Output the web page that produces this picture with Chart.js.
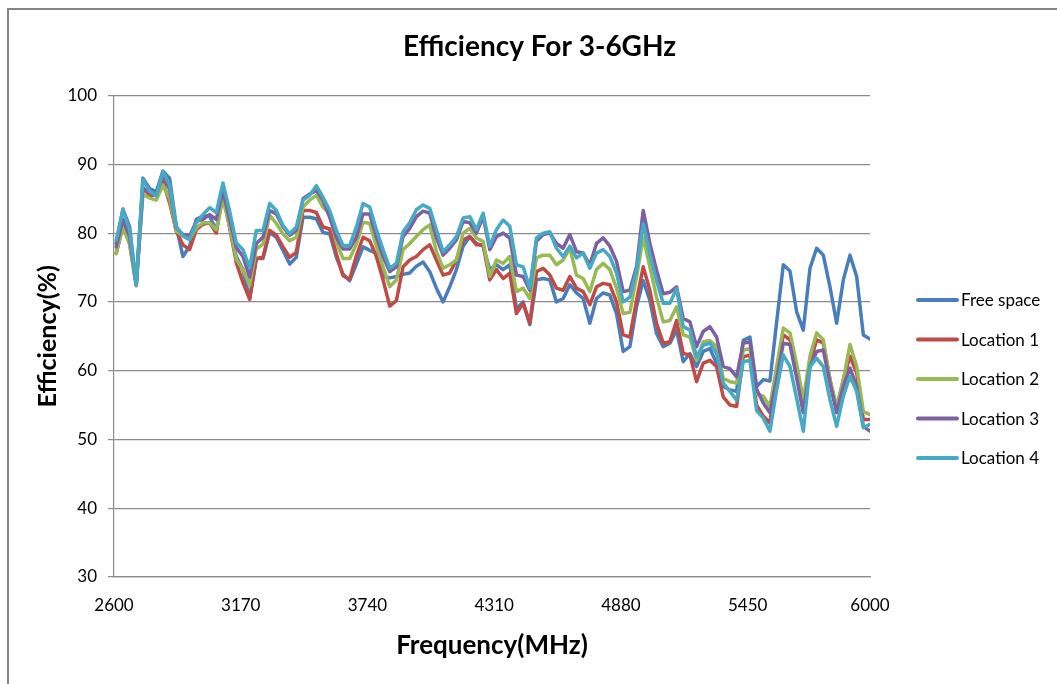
<!DOCTYPE html>
<html>
<head>
<meta charset="utf-8">
<title>Efficiency For 3-6GHz</title>
<script src="https://cdn.jsdelivr.net/npm/chart.js@4.4.1/dist/chart.umd.min.js"></script>
<style>
    html, body { margin: 0; padding: 0; background: #ffffff; }
    #chart { display: block; }
</style>
</head>
<body>
<canvas id="chart" width="1057" height="684"></canvas>
<script>
// Measured frequency points (MHz)
const frequencies = [
    2610, 2640, 2670, 2700, 2730, 2760, 2790, 2820, 2850, 2880,
    2910, 2940, 2970, 3000, 3030, 3060, 3090, 3120, 3150, 3180,
    3210, 3240, 3270, 3300, 3330, 3360, 3390, 3420, 3450, 3480,
    3510, 3540, 3570, 3600, 3630, 3660, 3690, 3720, 3750, 3780,
    3810, 3840, 3870, 3900, 3930, 3960, 3990, 4020, 4050, 4080,
    4110, 4140, 4170, 4200, 4230, 4260, 4290, 4320, 4350, 4380,
    4410, 4440, 4470, 4500, 4530, 4560, 4590, 4620, 4650, 4680,
    4710, 4740, 4770, 4800, 4830, 4860, 4890, 4920, 4950, 4980,
    5010, 5040, 5070, 5100, 5130, 5160, 5190, 5220, 5250, 5280,
    5310, 5340, 5370, 5400, 5430, 5460, 5490, 5520, 5550, 5580,
    5610, 5640, 5670, 5700, 5730, 5760, 5790, 5820, 5850, 5880,
    5910, 5940, 5970, 6000
];

// Efficiency (%) per series
const freeSpace = [
    78.5, 83.5, 81, 72.5, 88, 86.5, 86, 89, 88, 81,
    76.6, 78.1, 82, 82.5, 82.5, 80.3, 86.8, 81, 76.6, 74.7,
    70.4, 76.3, 76.3, 80.1, 79.4, 77.5, 75.5, 76.5, 82.3, 82.3,
    82.1, 80.1, 79.9, 76.5, 74, 73.1, 75.5, 78, 77.5, 77.1,
    73.7, 73.5, 73.7, 74, 74.2, 75.2, 75.8, 74.4, 72, 70,
    72.2, 74.7, 78.1, 79.5, 78.5, 78.1, 74.7, 75.4, 74.7, 75.4,
    69, 70, 66.7, 73.2, 73.4, 73.2, 70, 70.5, 72.5, 71.3,
    70.5, 66.9, 70.5, 71.3, 71, 68.3, 62.8, 63.5, 69.3, 73.1,
    70.2, 65.4, 63.5, 64, 65.9, 61.3, 62.5, 60.6, 62.8, 63.2,
    61.1, 57.7, 57.2, 57, 64.4, 64.9, 57.7, 58.7, 58.5, 67,
    75.4, 74.5, 68.6, 65.9, 74.9, 77.8, 76.8, 72.2, 66.9, 73.2,
    76.8, 73.7, 65.2, 64.6
];
const location1 = [
    77.1, 81, 78.5, 72.5, 86.6, 85.5, 85.5, 87.6, 84.4, 80.3,
    78.3, 77.6, 80.5, 81.3, 81.5, 80, 85.9, 80.8, 75.7, 72.8,
    70.4, 76.3, 76.5, 80.4, 79.7, 78, 76.5, 77.2, 83.3, 83.3,
    83, 80.9, 80.6, 77, 73.8, 73.3, 76.7, 79.4, 78.9, 76.6,
    73.2, 69.4, 70.2, 75.1, 76.1, 76.6, 77.6, 78.3, 76.1, 73.9,
    74.2, 76.1, 79, 79.5, 78.3, 78.3, 73.2, 74.7, 73.4, 74.2,
    68.3, 69.8, 66.9, 74.4, 74.9, 73.9, 72, 71.7, 73.7, 72,
    71.5, 69.6, 72.2, 72.7, 72.5, 70, 65.2, 64.9, 70.2, 75.1,
    71.7, 66.9, 64, 64.2, 67.3, 62.5, 62.3, 58.4, 61.1, 61.5,
    60.6, 56.2, 55, 54.8, 62, 62.3, 55, 53.4, 52.4, 59.7,
    65.2, 64.5, 60, 54.3, 61.1, 64.5, 64, 58.7, 54.3, 58.7,
    62.1, 59.7, 52.9, 52.9
];
const location2 = [
    77, 81, 78.5, 72.3, 85.6, 85.1, 84.8, 87, 85, 80.3,
    79.6, 79.1, 80.8, 81.5, 81.5, 80.5, 84.9, 81, 76.2, 74.7,
    72.4, 77.7, 78.4, 82.6, 81.4, 79.9, 78.9, 79.4, 83.8, 84.8,
    85.5, 83.8, 82.8, 78.7, 76.3, 76.3, 78.4, 81.6, 81.4, 78.1,
    75.1, 72.2, 73.2, 77.6, 78.5, 79.5, 80.5, 81.2, 77.3, 74.9,
    75.4, 76.1, 80, 80.7, 79.3, 78.8, 73.7, 76.1, 75.6, 76.6,
    71.5, 72, 70.5, 76.4, 76.8, 76.8, 75.4, 76.1, 77.8, 73.9,
    73.4, 71.5, 74.7, 75.6, 74.7, 72, 68.3, 68.5, 73.6, 79.4,
    75.1, 70.7, 67.1, 67.3, 69.3, 65.2, 64.9, 61.5, 64.2, 64.4,
    63.5, 58.9, 58.4, 58.2, 63, 63.2, 56.6, 56.3, 54.8, 60.6,
    66.2, 65.5, 61, 55.8, 62.1, 65.5, 64.5, 58.7, 54.8, 58.7,
    63.8, 60.6, 54.1, 53.6
];
const location3 = [
    78, 82, 79.5, 72.5, 86.5, 86, 85.5, 88.5, 86.4, 80.8,
    79.8, 79.6, 81.7, 82, 82.7, 82, 86.1, 82, 77.9, 76.6,
    73.6, 78.5, 79.4, 83.3, 82.8, 80.9, 79.7, 80.4, 85, 85.7,
    86.2, 84.8, 82.3, 79.4, 77.7, 77.7, 79.4, 82.8, 82.8, 79.5,
    76.6, 74.4, 75.1, 79.5, 80.7, 82.4, 83.2, 82.9, 79.3, 76.8,
    77.8, 79, 81.7, 81.5, 80, 82.4, 77.6, 79.5, 80, 79.3,
    73.9, 73.7, 71.7, 78.8, 79.8, 80, 78.5, 77.8, 79.8, 77.3,
    77.1, 75.4, 78.5, 79.3, 78.1, 75.9, 71.5, 71.7, 75.1, 83.3,
    78.5, 74.6, 71.2, 71.4, 72.2, 67.6, 67.1, 63.5, 65.7, 66.4,
    64.9, 60.6, 60.3, 59.1, 64, 64.2, 57.3, 55.3, 53.9, 58.7,
    64, 63.8, 59, 53.9, 60.6, 62.8, 63, 58.2, 53.9, 57.7,
    60.4, 57.7, 51.9, 51.2
];
const location4 = [
    79, 83.4, 80.5, 72.5, 87.8, 86.1, 85.4, 89, 87, 81,
    79.6, 79.1, 81.5, 82.7, 83.7, 83, 87.3, 83.2, 78.6, 77.6,
    75, 80.4, 80.4, 84.3, 83.3, 81.1, 79.9, 80.9, 84.8, 85.5,
    86.9, 85.2, 83.3, 80.4, 78.2, 78.2, 80.9, 84.3, 83.8, 80.5,
    77.6, 74.9, 75.6, 80.2, 81.5, 83.4, 84.1, 83.6, 80.5, 77.3,
    78.3, 79.5, 82.2, 82.4, 80.5, 82.9, 78.1, 80.5, 81.9, 81,
    75.4, 75.1, 72, 79.3, 80, 80.2, 77.8, 76.6, 78.1, 76.4,
    77.1, 74.9, 77.1, 77.6, 76.6, 74.2, 70, 70.7, 74.6, 81.4,
    77, 73.1, 69.8, 69.8, 71.9, 66.4, 65.9, 62, 63.7, 64,
    62.5, 58.2, 57, 55.7, 61.3, 61.5, 54.2, 53.1, 51.2, 57.2,
    62.3, 60.6, 56, 51.2, 60.6, 61.8, 60.6, 55.8, 51.9, 56.3,
    59.2, 57, 51.7, 52.2
];

const seriesNames = ['Free space', 'Location 1', 'Location 2', 'Location 3', 'Location 4'];
const xTickValues = [2600, 3170, 3740, 4310, 4880, 5450, 6000];

const allSeries = [freeSpace, location1, location2, location3, location4];
const seriesColors = ['#4a7ebb', '#be4b48', '#98b954', '#7d60a0', '#46aac5'];
const axisGray = '#8c8c8c';

Chart.defaults.font.family = 'Lato, "Open Sans", sans-serif';
Chart.defaults.color = '#000000';

// Outer frame of the chart object (left and top edges are visible)
const framePlugin = {
    id: 'frame',
    beforeDraw(chart) {
        const ctx = chart.ctx;
        ctx.save();
        ctx.fillStyle = '#ffffff';
        ctx.fillRect(0, 0, chart.width, chart.height);
        ctx.strokeStyle = '#858585';
        ctx.lineWidth = 2;
        ctx.beginPath();
        ctx.moveTo(8, chart.height);
        ctx.lineTo(8, 9);
        ctx.lineTo(chart.width, 9);
        ctx.stroke();
        ctx.restore();
    }
};

// Legend to the right of the plot, drawn like the Excel one
const sideLegendPlugin = {
    id: 'sideLegend',
    afterDraw(chart) {
        const ctx = chart.ctx;
        const x0 = chart.chartArea.right + 48;
        const rowGap = 39.5;
        const yFirst = 300;
        ctx.save();
        ctx.font = '17px ' + Chart.defaults.font.family;
        ctx.textBaseline = 'middle';
        ctx.textAlign = 'left';
        chart.data.datasets.forEach((ds, i) => {
            const y = yFirst + i * rowGap;
            ctx.strokeStyle = ds.borderColor;
            ctx.lineWidth = 4;
            ctx.lineCap = 'round';
            ctx.beginPath();
            ctx.moveTo(x0, y);
            ctx.lineTo(x0 + 39, y);
            ctx.stroke();
            ctx.fillStyle = '#000000';
            ctx.fillText(ds.label, x0 + 43, y + 1);
        });
        ctx.restore();
    }
};

const datasets = allSeries.map((values, i) => ({
    label: seriesNames[i],
    data: frequencies.map((f, j) => ({ x: f, y: values[j] })),
    borderColor: seriesColors[i],
    backgroundColor: seriesColors[i],
    borderWidth: 3.5,
    borderJoinStyle: 'round',
    borderCapStyle: 'round',
    pointRadius: 0,
    tension: 0,
    // later series are painted on top, as in the original
    order: allSeries.length - i
}));

new Chart(document.getElementById('chart'), {
    type: 'line',
    data: { datasets: datasets },
    options: {
        responsive: false,
        animation: false,
        layout: {
            padding: { left: 22, right: 0, top: 0, bottom: 0 }
        },
        plugins: {
            legend: { display: false },
            tooltip: { enabled: false },
            title: {
                display: true,
                text: 'Efficiency For 3-6GHz',
                color: '#000000',
                font: { size: 28, weight: 'bold' },
                padding: { top: 30, bottom: 32 }
            }
        },
        scales: {
            x: {
                type: 'linear',
                min: 2600,
                max: 6000,
                afterBuildTicks(scale) {
                    scale.ticks = xTickValues.map(v => ({ value: v }));
                },
                ticks: {
                    autoSkip: false,
                    maxRotation: 0,
                    padding: 18,
                    font: { size: 17 },
                    callback: value => String(value)
                },
                grid: { display: false, drawTicks: false },
                border: { display: true, color: axisGray, width: 1.2 },
                title: {
                    display: true,
                    text: 'Frequency(MHz)',
                    font: { size: 26, weight: 'bold' },
                    padding: { top: 0, bottom: 23 }
                },
                afterFit(scale) {
                    scale.height = 107;
                }
            },
            y: {
                min: 30,
                max: 100,
                ticks: {
                    stepSize: 10,
                    padding: 11,
                    font: { size: 17 }
                },
                grid: { color: axisGray, lineWidth: 1.2, tickLength: 6 },
                border: { display: true, color: axisGray, width: 1.2 },
                title: {
                    display: true,
                    text: 'Efficiency(%)',
                    font: { size: 25, weight: 'bold' },
                    padding: { top: 11, bottom: 0 }
                },
                afterFit(scale) {
                    scale.width = 92;
                }
            },
            // empty right-hand axis: keeps room for the legend
            legendSpace: {
                position: 'right',
                display: true,
                ticks: { display: false },
                grid: { display: false, drawTicks: false },
                border: { display: false },
                afterFit(scale) {
                    scale.width = 187;
                }
            }
        }
    },
    plugins: [framePlugin, sideLegendPlugin]
});
</script>
</body>
</html>
